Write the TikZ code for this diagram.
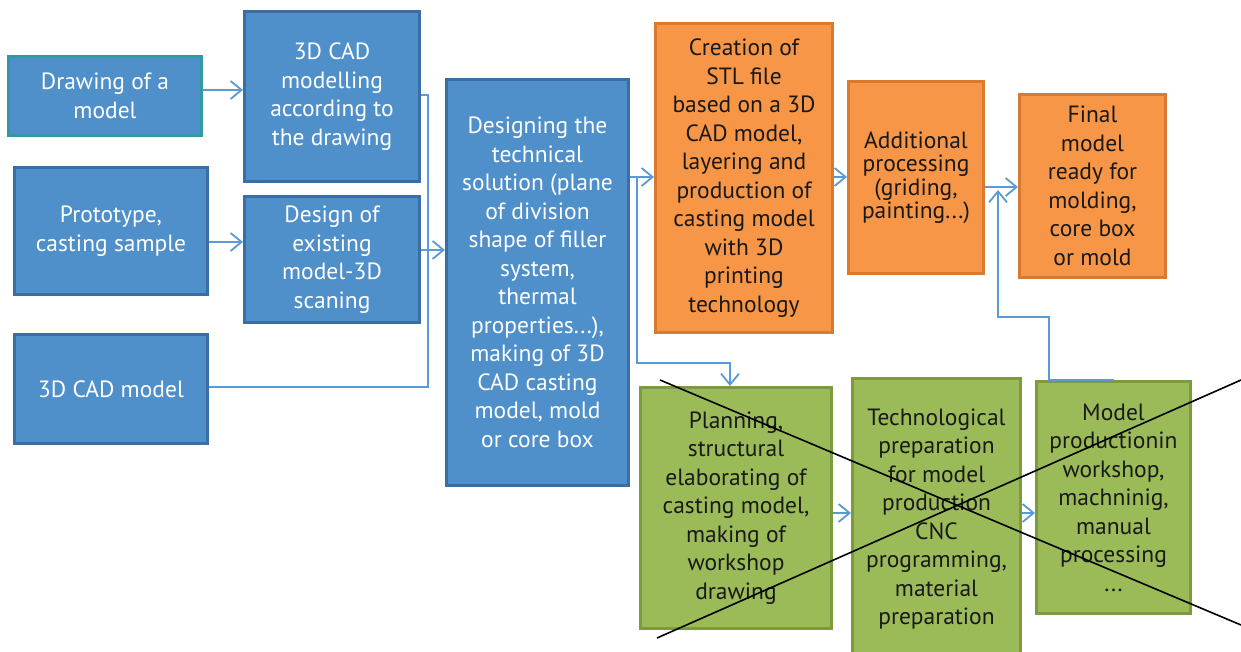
\documentclass[tikz,border=0pt]{standalone}
\usepackage{fontspec}
\setmainfont{PT Sans}
\usetikzlibrary{arrows.meta}
\definecolor{bfill}{HTML}{4F8FCA}
\definecolor{bdraw}{HTML}{3A6EA5}
\definecolor{tealdraw}{HTML}{2F9AA5}
\definecolor{ofill}{HTML}{F79646}
\definecolor{odraw}{HTML}{D97A30}
\definecolor{gfill}{HTML}{9BBB59}
\definecolor{gdraw}{HTML}{7E9A40}
\definecolor{conncol}{HTML}{5B9BD5}
\tikzset{
  box/.style={rectangle, line width=3pt, align=center, inner sep=0pt,
    font=\fontsize{23.5}{28.5}\selectfont},
  bluebox/.style={box, fill=bfill, draw=bdraw, text=white},
  orangebox/.style={box, fill=ofill, draw=odraw, text=black!90},
  greenbox/.style={box, fill=gfill, draw=gdraw, text=black!90},
  conn/.style={draw=conncol, line width=1.6pt},
  arr/.style={conn, -{Straight Barb[length=11pt,width=18pt,line width=1.8pt]}},
  cross/.style={draw=black, line width=1.6pt}
}
\begin{document}
\begin{tikzpicture}[x=1pt,y=-1pt]
\useasboundingbox[fill=white] (0,0) rectangle (1241,652);
% left column
\node[bluebox, draw=tealdraw, minimum width=193pt, minimum height=79pt] (A) at (105,96) {Drawing of a\\model};
\node[bluebox, minimum width=193pt, minimum height=127pt] (C) at (111,231) {Prototype,\\casting sample};
\node[bluebox, minimum width=193pt, minimum height=109pt] (E) at (111,389) {3D CAD model};
% second column
\node[bluebox, minimum width=175pt, minimum height=170pt] (B) at (332,96.5) {3D CAD\\modelling\\according to\\the drawing};
\node[bluebox, minimum width=175pt, minimum height=126pt] (D) at (332,259.5) {Design of\\existing\\model-3D\\scaning};
% big blue
\node[bluebox, minimum width=182pt, minimum height=406pt] (F) at (537.5,282.5) {Designing the\\technical\\solution (plane\\of division\\shape of filler\\system,\\thermal\\properties...),\\making of 3D\\CAD casting\\model, mold\\or core box};
% orange
\node[orangebox, minimum width=177pt, minimum height=309pt] (G) at (744,178) {Creation of\\STL file\\based on a 3D\\CAD model,\\layering and\\production of\\casting model\\with 3D\\printing\\technology};
\node[orangebox, minimum width=135pt, minimum height=192pt, font=\fontsize{23.5}{23.5}\selectfont] (H) at (916,177.5) {Additional\\processing\\(griding,\\painting...)};
\node[orangebox, minimum width=146pt, minimum height=183pt] (I) at (1092.5,186) {Final\\model\\ready for\\molding,\\core box\\or mold};
% green
\node[greenbox, minimum width=191pt, minimum height=241pt] (J) at (736,508) {Planning,\\structural\\elaborating of\\casting model,\\making of\\workshop\\drawing};
\node[greenbox, minimum width=168pt, minimum height=282pt] (K) at (936.5,519) {Technological\\preparation\\for model\\production\\CNC\\programming,\\material\\preparation};
\node[greenbox, minimum width=154pt, minimum height=232pt] (L) at (1113.5,497.5) {Model\\productionin\\workshop,\\machninig,\\manual\\processing\\...};
% connectors
\coordinate (ab) at (220,90);
\coordinate (cd) at (225,242);
\coordinate (m) at (428,250);
\coordinate (fj) at (637,177);
\coordinate (jt) at (730,363);
\coordinate (hi) at (1000,187);
\coordinate (lx) at (1049,317);
\coordinate (ly) at (998,317);
\coordinate (jk) at (842,513);
\coordinate (kl) at (1028,513);
\draw[arr] (A.east|-ab) -- (B.west|-ab);
\draw[arr] (C.east|-cd) -- (D.west|-cd);
\draw[conn] (B.east|-0,95) -| (m);
\draw[conn] (E.east|-0,387) -| (m);
\draw[arr] (D.east|-m) -- (F.west|-m);
\draw[arr] (F.east|-fj) -- (G.west|-fj);
\draw[arr] (fj) |- (jt) -- (jt|-J.north);
\draw[arr] (G.east|-fj) -- (H.west|-fj);
\draw[arr] (H.east|-hi) -- (I.west|-hi);
\draw[arr] (L.north) -- (L.north-|lx) -- (lx) -- (ly) -- (ly|-0,190);
\draw[arr] (J.east|-jk) -- (K.west|-jk);
\draw[arr] (K.east|-kl) -- (L.west|-kl);
% crossing lines
\coordinate (x1) at (660,380);
\coordinate (x2) at (1241,625);
\coordinate (x3) at (657,638);
\coordinate (x4) at (1241,380);
\draw[cross] (x1) -- (x2);
\draw[cross] (x3) -- (x4);
\end{tikzpicture}
\end{document}
